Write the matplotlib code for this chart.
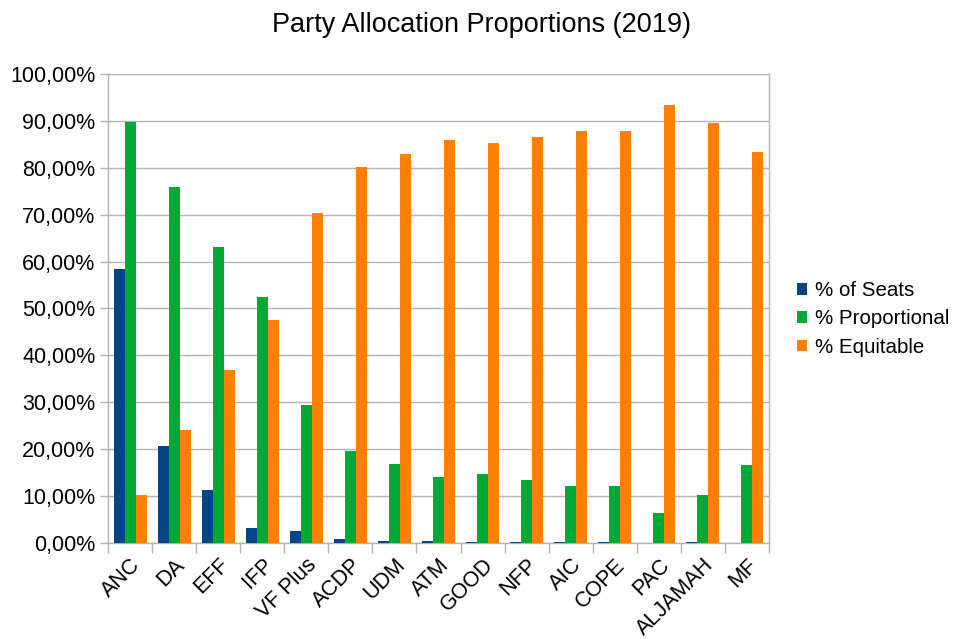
import matplotlib
matplotlib.use("Agg")
import matplotlib.pyplot as plt
import numpy as np
from matplotlib.ticker import FuncFormatter, MultipleLocator

parties = ["ANC", "DA", "EFF", "IFP", "VF Plus", "ACDP", "UDM", "ATM", "GOOD",
           "NFP", "AIC", "COPE", "PAC", "ALJAMAH", "MF"]
seats = [58.4, 20.7, 11.3, 3.2, 2.55, 0.85, 0.45, 0.45, 0.25, 0.25, 0.25, 0.25, 0.1, 0.25, 0.1]
proportional = [89.8, 75.9, 63.0, 52.4, 29.4, 19.6, 16.9, 14.1, 14.7, 13.5, 12.2, 12.2, 6.4, 10.3, 16.7]
equitable = [10.2, 24.1, 36.9, 47.5, 70.4, 80.2, 82.9, 85.9, 85.3, 86.6, 87.8, 87.8, 93.4, 89.6, 83.4]
series_names = ["% of Seats", "% Proportional", "% Equitable"]
colors = ["#004586", "#00a933", "#ff8000"]

plt.rcParams['font.family'] = ['Liberation Sans', 'DejaVu Sans']
FS = 15.5

fig = plt.figure(figsize=(9.54, 6.39), dpi=100)
ax = fig.add_axes([108/954, (639-543.3)/639, (769-108)/954, (543.3-73.7)/639])

x = np.arange(len(parties)) + 0.5
w = 0.25
for i, (vals, name, c) in enumerate(zip([seats, proportional, equitable], series_names, colors)):
    ax.bar(x + (i - 1) * w, vals, width=w, color=c, label=name, zorder=3)

ax.set_xlim(0, len(parties))
ax.set_ylim(0, 100)
ax.yaxis.set_major_locator(MultipleLocator(10))
ax.yaxis.set_major_formatter(FuncFormatter(lambda v, p: f"{v:.2f}".replace(".", ",") + "%"))
ax.set_xticks(np.arange(len(parties) + 1))
ax.set_xticklabels([])
ax.set_xticks(x, minor=True)
ax.set_xticklabels(parties, minor=True, rotation=45, ha='right', rotation_mode='anchor', fontsize=FS)
ax.tick_params(axis='x', which='minor', length=0, pad=8)
ax.tick_params(axis='x', which='major', length=7, color='#b3b3b3', width=1)
ax.tick_params(axis='y', length=6, color='#b3b3b3', width=1, labelsize=FS, pad=3)
ax.grid(axis='y', color='#b3b3b3', linewidth=1, zorder=0)
for s in ax.spines.values():
    s.set_color('#b3b3b3')
    s.set_linewidth(1)
ax.spines['top'].set_visible(False)

fig.text(0.505, 1 - 25/639, "Party Allocation Proportions (2019)", fontsize=19.5,
         ha='center', va='center')

LFS = 14.8
leg = ax.legend(loc='center left', bbox_to_anchor=((797-108)/661, (543.3-319)/469.6),
                frameon=False, fontsize=LFS, handlelength=0.49, handleheight=0.49,
                handletextpad=0.38, labelspacing=0.45, borderpad=0, borderaxespad=0)

fig.savefig("out.png", dpi=100)
